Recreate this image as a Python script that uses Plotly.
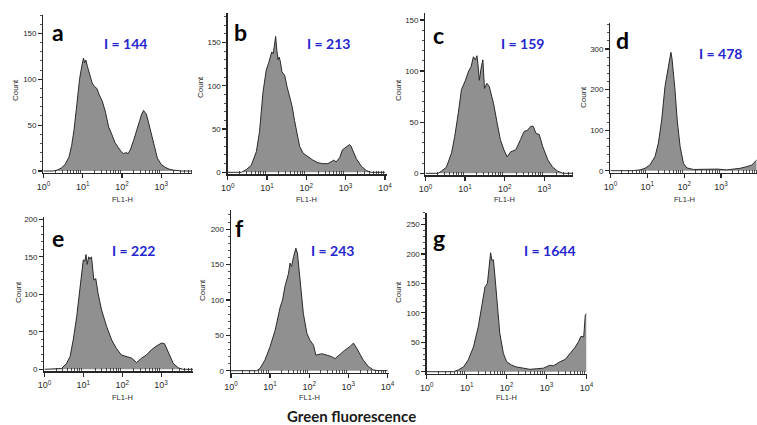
import numpy as np
import plotly.graph_objects as go

# ---------------- data (FL1-H position in decades, cell count) ----------------
a_log = [0.0, 0.25, 0.35, 0.45, 0.55, 0.65, 0.72, 0.78, 0.85, 0.92, 0.98, 1.02, 1.05, 1.08, 1.12, 1.18,
         1.24, 1.3, 1.36, 1.42, 1.5, 1.58, 1.66, 1.74, 1.82, 1.9, 1.98, 2.04, 2.1, 2.16, 2.22, 2.3, 2.38,
         2.45, 2.5, 2.55, 2.58, 2.62, 2.68, 2.75, 2.82, 2.9, 3.0, 3.1, 3.2, 3.3, 3.5, 3.78]
a_count = [0, 0, 1, 3, 7, 15, 28, 45, 72, 100, 115, 123, 118, 121, 114, 106, 96, 92, 90, 83, 76, 64,
           48, 40, 31, 26, 21, 19, 20, 19, 24, 34, 44, 55, 62, 66, 64, 62, 52, 40, 25, 14, 7, 4, 2, 1, 0, 0]

b_log = [0.0, 0.35, 0.47, 0.6, 0.73, 0.81, 0.9, 0.98, 1.04, 1.08, 1.12, 1.16, 1.19, 1.22, 1.25, 1.28,
         1.31, 1.34, 1.38, 1.45, 1.51, 1.56, 1.6, 1.64, 1.7, 1.76, 1.83, 1.92, 2.04, 2.17, 2.3, 2.42, 2.55,
         2.65, 2.7, 2.76, 2.85, 2.92, 2.98, 3.04, 3.1, 3.14, 3.18, 3.27, 3.4, 3.53, 3.65, 4.0]
b_count = [0, 0, 3, 8, 24, 47, 93, 118, 126, 132, 139, 137, 145, 157, 141, 130, 133, 128, 116, 112, 99,
           90, 84, 76, 60, 45, 30, 22, 18, 14, 11, 10, 10, 13, 14, 12, 17, 26, 28, 29, 32, 30, 26, 16, 7,
           2, 0, 0]

c_log = [0.0, 0.32, 0.4, 0.53, 0.66, 0.74, 0.83, 0.91, 1.0, 1.09, 1.15, 1.21, 1.26, 1.3, 1.33, 1.36,
         1.41, 1.45, 1.49, 1.55, 1.61, 1.72, 1.81, 1.89, 1.98, 2.06, 2.15, 2.28, 2.4, 2.49, 2.57, 2.66,
         2.72, 2.79, 2.87, 2.96, 3.09, 3.21, 3.34, 3.47, 3.73]
c_count = [0, 0, 2, 6, 20, 36, 59, 82, 90, 100, 104, 114, 111, 115, 105, 91, 104, 111, 83, 88, 85, 68,
           49, 33, 23, 16, 21, 23, 33, 41, 42, 46, 46, 39, 38, 26, 13, 6, 2, 0, 0]

d_log = [0.0, 0.62, 0.8, 0.94, 1.07, 1.21, 1.3, 1.39, 1.48, 1.57, 1.61, 1.64, 1.67, 1.71, 1.75, 1.81,
         1.89, 1.98, 2.07, 2.25, 2.5, 2.7, 2.9, 3.15, 3.35, 3.52, 3.7, 3.83, 3.92, 3.98]
d_count = [0, 0, 2, 6, 14, 35, 68, 125, 208, 257, 270, 292, 276, 240, 200, 125, 59, 18, 7, 3, 4, 3, 4,
           2, 4, 6, 10, 14, 22, 28]

e_log = [0.0, 0.32, 0.44, 0.57, 0.66, 0.74, 0.83, 0.91, 0.97, 1.0, 1.04, 1.07, 1.1, 1.14, 1.17, 1.21,
         1.24, 1.27, 1.32, 1.38, 1.47, 1.6, 1.73, 1.85, 1.98, 2.11, 2.24, 2.37, 2.5, 2.62, 2.75, 2.88,
         3.01, 3.09, 3.18, 3.31, 3.44, 3.56, 3.82]
e_count = [0, 0, 1, 8, 17, 39, 70, 106, 135, 146, 144, 153, 140, 150, 147, 150, 135, 119, 121, 101, 79,
           57, 39, 28, 19, 17, 15, 9, 15, 19, 26, 31, 35, 34, 24, 8, 2, 0, 0]

f_log = [0.0, 0.66, 0.74, 0.87, 1.0, 1.13, 1.26, 1.32, 1.38, 1.47, 1.51, 1.55, 1.6, 1.66, 1.7, 1.77,
         1.85, 1.94, 2.02, 2.11, 2.17, 2.32, 2.45, 2.57, 2.66, 2.79, 2.91, 3.04, 3.13, 3.21, 3.3, 3.38,
         3.51, 3.64, 3.77, 4.0]
f_count = [0, 0, 3, 15, 34, 57, 90, 100, 119, 137, 152, 147, 161, 173, 166, 123, 81, 53, 43, 36, 22,
           24, 22, 20, 17, 24, 29, 34, 39, 32, 24, 15, 6, 1, 0, 0]

g_log = [0.0, 0.67, 0.79, 0.92, 1.04, 1.17, 1.29, 1.37, 1.46, 1.52, 1.57, 1.6, 1.63, 1.67, 1.71, 1.77,
         1.83, 1.92, 2.0, 2.13, 2.25, 2.42, 2.58, 2.75, 2.92, 3.08, 3.17, 3.34, 3.47, 3.6, 3.72, 3.8,
         3.86, 3.93, 3.97, 4.0]
g_count = [0, 0, 3, 8, 20, 42, 76, 110, 144, 150, 178, 202, 189, 190, 161, 110, 65, 31, 17, 11, 8, 6,
           4, 5, 6, 11, 10, 17, 21, 32, 42, 51, 60, 59, 96, 99]

panel_letters = ["a", "b", "c", "d", "e", "f", "g"]
intensity_labels = ["I = 144", "I = 213", "I = 159", "I = 478", "I = 222", "I = 243", "I = 1644"]
decade_ticks = [1, 10, 100, 1000, 10000]
decade_labels = ["10<sup>0</sup>", "10<sup>1</sup>", "10<sup>2</sup>", "10<sup>3</sup>", "10<sup>4</sup>"]
x_title = "FL1-H"
y_title = "Count"
common_title = "Green fluorescence"

series = [(a_log, a_count), (b_log, b_count), (c_log, c_count), (d_log, d_count),
          (e_log, e_count), (f_log, f_count), (g_log, g_count)]

# ---------------- layout geometry (pixels) ----------------
W, H = 757, 425
geom = [
    dict(x0=43.4, dec=39.3, xend=3.78, yz=171.0, yt=15.0, ymax=170, dt=50, mdt=10,
         letter=(58, 32), ilab=(125, 43), cnt=(15, 90), fly=199),
    dict(x0=227.7, dec=39.3, xend=4.05, yz=172.3, yt=13.0, ymax=184, dt=50, mdt=10,
         letter=(241, 32), ilab=(328, 43), cnt=(200, 87), fly=199),
    dict(x0=425.4, dec=39.65, xend=3.73, yz=173.3, yt=13.3, ymax=156.5, dt=50, mdt=10,
         letter=(438, 35), ilab=(522, 43), cnt=(398, 90), fly=199),
    dict(x0=610.4, dec=36.9, xend=3.98, yz=170.7, yt=22.7, ymax=365, dt=100, mdt=20,
         letter=(622, 40), ilab=(720, 53), cnt=(583, 97), fly=199),
    dict(x0=44.4, dec=38.9, xend=3.82, yz=369.3, yt=216.7, ymax=203.5, dt=50, mdt=10,
         letter=(58, 238), ilab=(133, 250), cnt=(18, 292), fly=397),
    dict(x0=230.9, dec=39.15, xend=4.03, yz=370.7, yt=210.0, ymax=227, dt=50, mdt=10,
         letter=(239, 228), ilab=(332, 250), cnt=(202, 290), fly=397),
    dict(x0=426.7, dec=39.95, xend=4.0, yz=371.7, yt=212.7, ymax=270, dt=50, mdt=10,
         letter=(439, 238), ilab=(550, 250), cnt=(398, 292), fly=397),
]

minor_x = [m * 10 ** k for k in range(0, 4) for m in range(2, 10)]

AXC = "#262626"
TXT = "#2a2a2a"
tick_font = dict(family="Liberation Sans, Arial, sans-serif", size=9, color=TXT)

fig = go.Figure()
layout = dict(template="none", width=W, height=H, margin=dict(l=0, r=0, t=0, b=0, autoexpand=False),
              paper_bgcolor="white", plot_bgcolor="white", showlegend=False)
annotations = []

for i, ((lg, cnt), gm) in enumerate(zip(series, geom)):
    n = "" if i == 0 else str(i + 1)
    xs = 10 ** np.array(lg, dtype=float)
    fig.add_trace(go.Scatter(x=xs, y=cnt, mode="lines", fill="tozeroy",
                             fillcolor="#909090", line=dict(color="#2a2a2a", width=1),
                             xaxis="x" + n, yaxis="y" + n, hoverinfo="skip"))
    s = gm["ymax"] / (gm["yz"] - gm["yt"])
    xend = min(gm["xend"], (W - 0.5 - gm["x0"]) / gm["dec"])
    x1 = gm["x0"] + gm["dec"] * xend
    layout["xaxis" + n] = dict(
        type="log", range=[0, xend], domain=[gm["x0"] / W, min(1.0, x1 / W)],
        anchor="y" + n, automargin=False, tickmode="array", tickvals=decade_ticks,
        ticktext=decade_labels,
        ticks="outside", ticklen=4, tickwidth=1.2, tickcolor=AXC,
        showline=True, linecolor=AXC, linewidth=1.3, showgrid=False, zeroline=False,
        tickfont=tick_font, ticklabelstandoff=1,
        minor=dict(tickmode="array", tickvals=minor_x, ticks="inside", ticklen=3,
                   tickwidth=0.8, tickcolor=AXC, showgrid=False),
    )
    layout["yaxis" + n] = dict(
        range=[-2 * s, gm["ymax"]],
        domain=[1 - (gm["yz"] + 2) / H, 1 - gm["yt"] / H],
        anchor="x" + n, automargin=False, tick0=0, dtick=gm["dt"], ticks="outside", ticklen=4,
        tickwidth=1.2, tickcolor=AXC, showline=True, linecolor=AXC, linewidth=1.3, showgrid=False,
        zeroline=False, tickfont=dict(family="Liberation Sans, Arial, sans-serif", size=8, color=TXT),
        minor=dict(tick0=0, dtick=gm["mdt"], ticks="outside", ticklen=2, tickwidth=0.8,
                   tickcolor=AXC, showgrid=False),
    )
    annotations.append(dict(text="<b>%s</b>" % panel_letters[i], x=gm["letter"][0] / W,
                            y=1 - gm["letter"][1] / H, xref="paper", yref="paper",
                            showarrow=False, xanchor="center", yanchor="middle",
                            font=dict(family="Lato, Open Sans, sans-serif", size=23, color="black")))
    annotations.append(dict(text="<b>%s</b>" % intensity_labels[i], x=gm["ilab"][0] / W,
                            y=1 - gm["ilab"][1] / H, xref="paper", yref="paper",
                            showarrow=False, xanchor="center", yanchor="middle",
                            font=dict(family="Lato, Open Sans, sans-serif", size=14, color="#2626cf")))
    annotations.append(dict(text=y_title, x=gm["cnt"][0] / W, y=1 - gm["cnt"][1] / H,
                            xref="paper", yref="paper", showarrow=False, textangle=-90,
                            xanchor="center", yanchor="middle",
                            font=dict(family="Liberation Sans, Arial, sans-serif", size=8, color=TXT)))
    annotations.append(dict(text=x_title, x=2, xref="x" + n, y=1 - gm["fly"] / H, yref="paper",
                            showarrow=False, xanchor="center", yanchor="middle",
                            font=dict(family="Liberation Sans, Arial, sans-serif", size=7.5, color=TXT)))

annotations.append(dict(text="<b>%s</b>" % common_title, x=351 / W, y=1 - 416 / H,
                        xref="paper", yref="paper", showarrow=False, xanchor="center",
                        yanchor="middle",
                        font=dict(family="Lato, Open Sans, sans-serif", size=15, color="#1a1a1a")))
layout["annotations"] = annotations
fig.update_layout(**layout)
fig.write_html("out.html", config={"displayModeBar": False, "staticPlot": True},
               post_script="document.body.style.margin='0';document.body.style.overflow='hidden';")
